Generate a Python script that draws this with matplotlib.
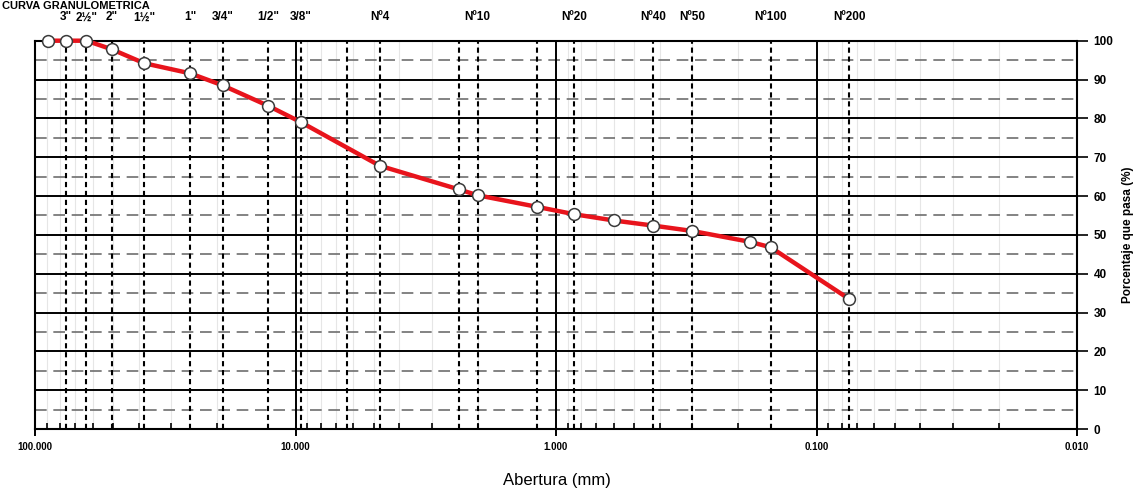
import matplotlib
matplotlib.use("Agg")
import matplotlib.pyplot as plt
from matplotlib.ticker import FixedLocator, NullFormatter
import numpy as np

plt.rcParams['font.family'] = ['Liberation Sans', 'DejaVu Sans']

# ---- data ----
sizes_mm = [88.9, 76.2, 63.5, 50.8, 38.1, 25.4, 19.05, 12.7, 9.525, 4.75,
            2.36, 2.0, 1.18, 0.85, 0.6, 0.425, 0.3, 0.18, 0.15, 0.075]
passing = [100, 100, 100, 97.8, 94.2, 91.6, 88.5, 83.2, 79.0, 67.8,
           61.7, 60.2, 57.2, 55.3, 53.7, 52.4, 51.0, 48.2, 46.8, 33.5]

sieve_lines_mm = [76.2, 63.5, 50.8, 38.1, 25.4, 19.05, 12.7, 9.525, 6.35, 4.75,
                  2.36, 2.0, 1.18, 0.85, 0.425, 0.3, 0.15, 0.075]

top_label_mm = [76.2, 63.5, 50.8, 38.1, 25.4, 19.05, 12.7, 9.525, 4.75,
                2.0, 0.85, 0.425, 0.3, 0.15, 0.075]
top_labels = ['3"', '2½"', '2"', '1½"', '1"', '3/4"', '1/2"', '3/8"', 'Nº4',
              'Nº10', 'Nº20', 'Nº40', 'Nº50', 'Nº100', 'Nº200']

x_major = [100, 10, 1, 0.1, 0.01]
x_major_labels = ['100.000', '10.000', '1.000', '0.100', '0.010']
y_ticks = [0, 10, 20, 30, 40, 50, 60, 70, 80, 90, 100]

# ---- figure ----
fig = plt.figure(figsize=(11.4, 4.91), dpi=100)
ax = fig.add_axes([35/1140, 1-429/491, (1077-35)/1140, (429-40.7)/491])

ax.set_xscale('log')
ax.set_xlim(100, 0.01)
ax.set_ylim(0, 100)

# minor faint grid
minors = [m * d for d in [10, 1, 0.1, 0.01] for m in range(2, 10)]
for xm in minors:
    ax.axvline(xm, color='#e6e6e6', lw=0.8, zorder=0.5)

# horizontal grid
for yv in y_ticks[1:-1]:
    ax.axhline(yv, color='black', lw=1.4, zorder=1)
for yv in np.arange(5, 100, 10):
    ax.axhline(yv, color='#6e6e6e', lw=1.2, dashes=(7, 4), zorder=1)

# vertical major solid
for xv in x_major[1:-1]:
    ax.axvline(xv, color='black', lw=1.4, zorder=1)
# vertical sieve dashed
for xv in sieve_lines_mm:
    ax.axvline(xv, color='black', lw=1.5, dashes=(2.5, 1.8), zorder=1.2)

# curve
ax.plot(sizes_mm, passing, color='#e8141c', lw=3.2, zorder=3, clip_on=False)
ax.plot(sizes_mm, passing, linestyle='none', marker='o', markersize=8.5,
        markerfacecolor='white', markeredgecolor='#3a3a3a', markeredgewidth=1.1,
        zorder=4, clip_on=False)

# spines
for s in ax.spines.values():
    s.set_linewidth(1.5)
    s.set_color('black')

# x ticks
ax.xaxis.set_major_locator(FixedLocator(x_major))
ax.set_xticklabels(x_major_labels, fontsize=7, fontweight='bold')
ax.xaxis.set_minor_locator(FixedLocator(minors))
ax.xaxis.set_minor_formatter(NullFormatter())
ax.tick_params(axis='x', which='major', direction='out', length=5, width=1.4, pad=4)
ax.tick_params(axis='x', which='minor', direction='in', length=4, width=1.2)

# y ticks on right
ax.yaxis.tick_right()
ax.set_yticks(y_ticks)
ax.set_yticklabels([str(v) for v in y_ticks], fontsize=8.5, fontweight='bold')
ax.tick_params(axis='y', which='major', direction='out', length=8, width=1.2, pad=4)
ax.tick_params(axis='y', which='minor', length=0)

# top sieve labels
for xv, lab in zip(top_label_mm, top_labels):
    ax.text(xv, 1.06, lab, transform=ax.get_xaxis_transform(), ha='center',
            va='center', fontsize=8.5, fontweight='bold')

# axis labels
fig.text(557/1140, 1-481/491, 'Abertura (mm)', ha='center', va='center', fontsize=12)
fig.text(1128/1140, 1-235/491, 'Porcentaje que pasa (%)', ha='center', va='center',
         rotation=90, fontsize=8.5, fontweight='bold')

# title
fig.text(2/1140, 1-1/491, 'CURVA GRANULOMETRICA', ha='left', va='top',
         fontsize=8, fontweight='bold')

fig.savefig('out.png', dpi=100)
